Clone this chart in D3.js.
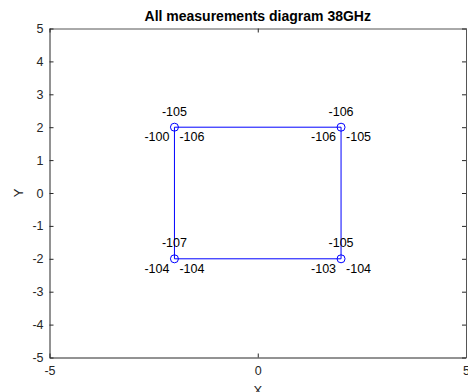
<!DOCTYPE html>
<html><head><meta charset="utf-8">
<script src="https://cdn.jsdelivr.net/npm/d3@7"></script>
<style>body{margin:0;background:#fff}svg{display:block}text{font-family:"Liberation Sans",Arial,sans-serif}</style>
</head><body><svg id="c" width="468" height="392"></svg>
<script>
const title = "All measurements diagram 38GHz";
const xs = [-2, 2, 2, -2, -2];
const ys = [2, 2, -2, -2, 2];
const px = [-2, 2, -2, 2];
const py = [2, 2, -2, -2];
const topVals = [-105, -106, -107, -105];
const leftVals = [-100, -106, -104, -103];
const rightVals = [-106, -105, -104, -104];
const ticks = [-5, -4, -3, -2, -1, 0, 1, 2, 3, 4, 5];
const xTicks = [-5, 0, 5];

const svg = d3.select("#c");
const L = 49.5, R = 466, T = 28.5, B = 357.5;
const x = d3.scaleLinear().domain([-5, 5]).range([L, R]);
const y = d3.scaleLinear().domain([-5, 5]).range([B, T]);
const ax = "#262626";
const fs = "12.5px";

// axes
const gB = svg.append("g").attr("transform", `translate(0,${B})`)
  .call(d3.axisBottom(x).tickValues(xTicks).tickSizeInner(-4).tickSizeOuter(0).tickPadding(9));
const gT = svg.append("g").attr("transform", `translate(0,${T})`)
  .call(d3.axisTop(x).tickValues(xTicks).tickSizeInner(-4).tickSizeOuter(0).tickFormat(""));
const gL = svg.append("g").attr("transform", `translate(${L},0)`)
  .call(d3.axisLeft(y).tickValues(ticks).tickSizeInner(-4).tickSizeOuter(0).tickPadding(6));
const gR = svg.append("g").attr("transform", `translate(${R},0)`)
  .call(d3.axisRight(y).tickValues(ticks).tickSizeInner(-4).tickSizeOuter(0).tickFormat(""));
[gB, gT, gL, gR].forEach(g => {
  g.selectAll("path").attr("stroke", ax);
  g.selectAll("line").attr("stroke", ax);
  g.selectAll("text").attr("fill", ax).style("font-size", fs).style("font-family", '"Liberation Sans",Arial,sans-serif');
});
gT.selectAll("path").attr("stroke", "#555");
gR.selectAll("path").attr("stroke", "#555");
gB.selectAll("text").text(d => String(d));
gL.selectAll("text").text(d => String(d));

// title and labels
svg.append("text").attr("x", (L + R) / 2).attr("y", 21).attr("text-anchor", "middle")
  .style("font-size", "14px").style("font-weight", "bold").attr("fill", "#000").text(title);
svg.append("text").attr("x", (L + R) / 2).attr("y", 395).attr("text-anchor", "middle")
  .style("font-size", "13px").attr("fill", ax).text("X");
svg.append("text").attr("transform", `translate(23,${(T + B) / 2}) rotate(-90)`).attr("text-anchor", "middle")
  .style("font-size", "13px").attr("fill", ax).text("Y");

// line
const line = d3.line().x(d => x(d[0])).y(d => y(d[1]));
svg.append("path").datum(xs.map((v, i) => [v, ys[i]])).attr("d", line)
  .attr("fill", "none").attr("stroke", "#0000ff").attr("stroke-width", 1);
svg.selectAll("circle.m").data(px).enter().append("circle")
  .attr("cx", (d) => x(d)).attr("cy", (d, i) => y(py[i])).attr("r", 4)
  .attr("fill", "none").attr("stroke", "#0000ff").attr("stroke-width", 1);

// value labels
const lab = svg.append("g").style("font-size", fs).attr("fill", "#000");
px.forEach((vx, i) => {
  const vy = py[i];
  lab.append("text").attr("x", x(vx)).attr("y", y(vy + 0.48)).attr("dy", "0.35em").attr("text-anchor", "middle").text(topVals[i]);
  lab.append("text").attr("x", x(vx - 0.12)).attr("y", y(vy - 0.29)).attr("dy", "0.35em").attr("text-anchor", "end").text(leftVals[i]);
  lab.append("text").attr("x", x(vx + 0.12)).attr("y", y(vy - 0.29)).attr("dy", "0.35em").attr("text-anchor", "start").text(rightVals[i]);
});
</script></body></html>
